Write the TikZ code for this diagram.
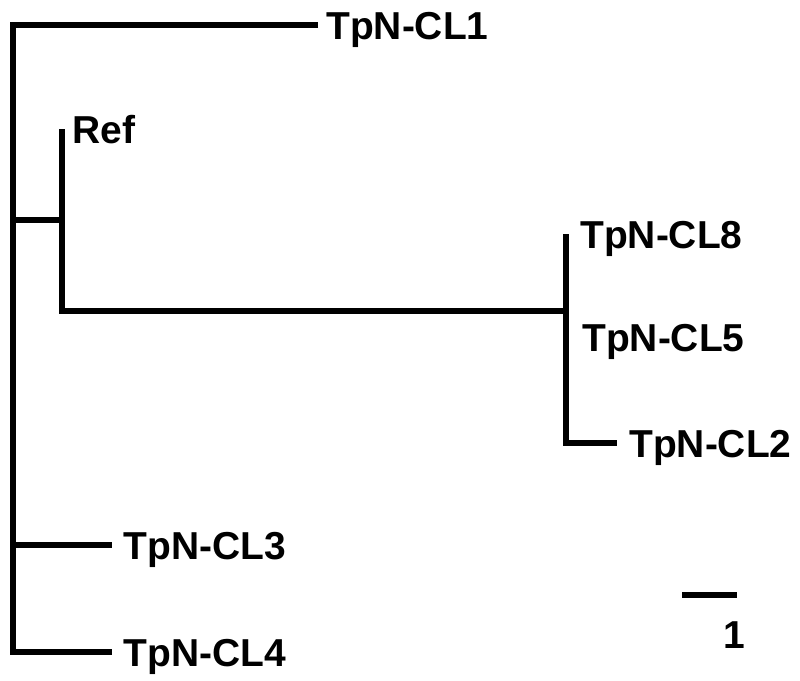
\documentclass[tikz,border=0pt]{standalone}
\usepackage{fontspec}
\setmainfont{Liberation Sans}
\usepackage{tikz}
\usetikzlibrary{positioning}

\begin{document}
\begin{tikzpicture}[x=0.025cm, y=-0.025cm,
        every node/.style={font=\fontsize{27.7}{30}\selectfont\bfseries, inner sep=0pt, text height=20pt, text depth=0pt},
        branch/.style={line width=3.6pt, line join=miter},
        node distance=0.3cm]
        \useasboundingbox (0,0) rectangle (800,680);

        % inner nodes of the tree
        \coordinate (root1) at (13,25);
        \coordinate (root2) at (13,220);
        \coordinate (root3) at (13,545);
        \coordinate (root4) at (13,652);
        \coordinate (in1) at (62,220);
        \coordinate (in1top) at (62,129);
        \coordinate (in1bot) at (62,311);
        \coordinate (in2) at (566,311);
        \coordinate (in2top) at (566,234);
        \coordinate (in2mid) at (566,337);
        \coordinate (in2bot) at (566,443);

        % tips
        \coordinate (t1) at (318,25);
        \coordinate (t2) at (617,443);
        \coordinate (t3) at (112,545);
        \coordinate (t4) at (112,652);

        \draw[branch] (t1) -- (root1) -- (root4) -- (t4);
        \draw[branch] (root3) -- (t3);
        \draw[branch] (root2) -- (in1);
        \draw[branch] (in1top) -- (in1bot) -- (in2);
        \draw[branch] (in2top) -- (in2bot) -- (t2);

        \node[right=0.2cm of t1] (CL1) {TpN-CL1};
        \node[right=0.25cm of in1top] (Ref) {Ref};
        \node[right=0.35cm of in2top] (CL8) {TpN-CL8};
        \node[right=0.4cm of in2mid] (CL5) {TpN-CL5};
        \node[right=0.3cm of t2] (CL2) {TpN-CL2};
        \node[right=0.28cm of t3] (CL3) {TpN-CL3};
        \node[right=0.28cm of t4] (CL4) {TpN-CL4};

        % scale bar
        \coordinate (bar1) at (682,595);
        \coordinate (bar2) at (737,595);
        \draw[branch] (bar1) -- (bar2);
        \node at (734,634) (unit) {1};
    \end{tikzpicture}
\end{document}
